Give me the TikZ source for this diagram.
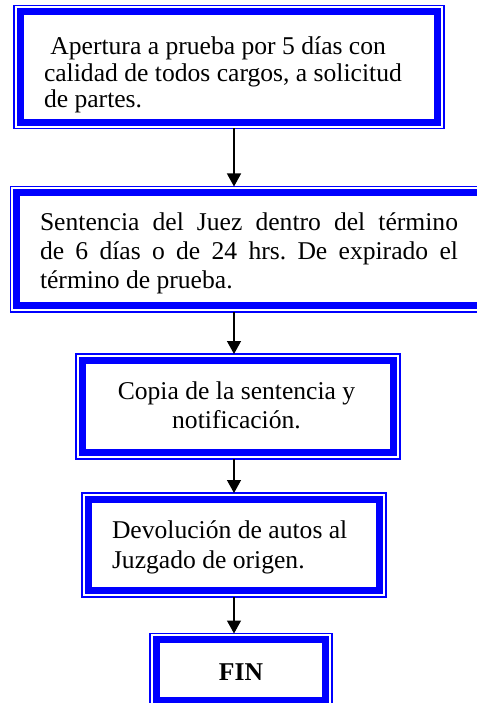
\documentclass[tikz,border=0pt]{standalone}
\usepackage{fontspec}
\setmainfont{Liberation Serif}
\usetikzlibrary{arrows.meta}
\definecolor{fb}{RGB}{0,0,255}
\frenchspacing
\tikzset{
  boxo/.style={draw=fb, line width=1.3pt, rectangle, inner sep=0pt, outer sep=0pt, fill=white},
  boxi/.style={draw=fb, line width=7pt},
  lbl/.style={inner sep=0pt, outer sep=0pt, font=\fontsize{25.6}{29.5}\selectfont},
  arr/.style={draw=black, line width=1.3pt, -{Triangle[length=13pt,width=14pt]}}
}
\newcommand{\innerframe}[1]{\draw[boxi] ([xshift=6.2pt,yshift=-6.2pt]#1.north west) rectangle ([xshift=-6.2pt,yshift=6.2pt]#1.south east);}
\begin{document}
\begin{tikzpicture}[x=1pt,y=-1pt]
\useasboundingbox (0,0) rectangle (476,703);
% boxes
\node[boxo, minimum width=430pt, minimum height=122.6pt] (b1) at (229,67) {};
\node[boxo, minimum width=476.3pt, minimum height=125.5pt] (b2) at (248.85,249.25) {};
\node[boxo, minimum width=324pt, minimum height=105pt] (b3) at (238,406.5) {};
\node[boxo, minimum width=304pt, minimum height=104pt] (b4) at (234,545) {};
\node[boxo, minimum width=182pt, minimum height=73.2pt] (b5) at (241,670.1) {};
\innerframe{b1}
\innerframe{b2}
\innerframe{b3}
\innerframe{b4}
\innerframe{b5}
% texts
\node[lbl, anchor=base west] (t1a) at (50.4,55) {Apertura a prueba por 5 días con};
\node[lbl, anchor=base west] (t1b) at (44,82) {calidad de todos cargos, a solicitud};
\node[lbl, anchor=base west] (t1c) at (44,108) {de partes.};
\node[lbl, anchor=base west] (t2a) at (40,230) {\makebox[418pt][s]{Sentencia del Juez dentro del término}};
\node[lbl, anchor=base west] (t2b) at (40,259) {\makebox[418pt][s]{de 6 días o de 24 hrs. De expirado el}};
\node[lbl, anchor=base west] (t2c) at (40,288) {término de prueba.};
\node[lbl, anchor=base] (t3a) at (236.5,399) {Copia de la sentencia y};
\node[lbl, anchor=base] (t3b) at (236.5,428) {notificación.};
\node[lbl, anchor=base west] (t4a) at (112,538) {Devolución de autos al};
\node[lbl, anchor=base west] (t4b) at (112,568) {Juzgado de origen.};
\node[lbl, anchor=base, font=\fontsize{25.6}{29.5}\selectfont\bfseries] (t5) at (241,680) {FIN};
% arrows
\coordinate (ax) at (234,0);
\draw[arr] (b1.south -| ax) -- (b2.north -| ax);
\draw[arr] (b2.south -| ax) -- (b3.north -| ax);
\draw[arr] (b3.south -| ax) -- (b4.north -| ax);
\draw[arr] (b4.south -| ax) -- (b5.north -| ax);
\end{tikzpicture}
\end{document}
